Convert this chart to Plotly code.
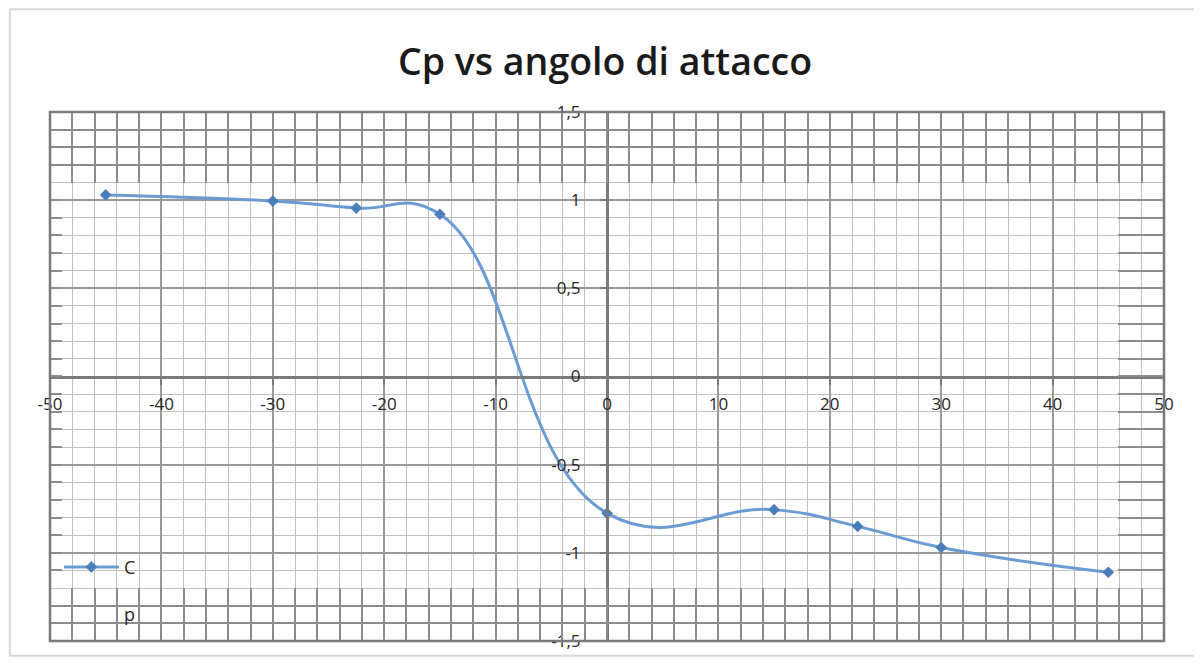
import numpy as np
import plotly.graph_objects as go

# ---- data ----
angles = [-45, -30, -22.5, -15, 0, 15, 22.5, 30, 45]
cp_values = [1.03, 0.995, 0.955, 0.92, -0.775, -0.755, -0.85, -0.97, -1.11]
series_name = "C<br><br>p"
title_text = "Cp vs angolo di attacco"

x_tick_vals = [-50, -40, -30, -20, -10, 0, 10, 20, 30, 40, 50]
x_tick_text = ["-50", "-40", "-30", "-20", "-10", "0", "10", "20", "30", "40", "50"]
y_tick_vals = [-1.5, -1.0, -0.5, 0.0, 0.5, 1.0, 1.5]
y_tick_text = ["-1,5", "-1", "-0,5", "0", "0,5", "1", "1,5"]

LINE = "#6a9bd3"
MINOR = "#c0c0c0"
MAJOR = "#999999"
BAND = "#8c8c8c"
AXIS = "#7a7a7a"
TXT = "#262626"

fig = go.Figure()
fig.add_trace(go.Scatter(
    x=angles, y=cp_values, name=series_name,
    mode="lines+markers",
    line=dict(color=LINE, width=3, shape="spline", smoothing=1.3),
    marker=dict(symbol="diamond", size=9, color="#4a7ebb"),
))

layout = dict(
    width=1194, height=656,
    paper_bgcolor="white", plot_bgcolor="rgba(0,0,0,0)",
    margin=dict(l=42, r=38, t=104, b=23),
    separators=", ",
    title=dict(text=title_text, x=0.5, xanchor="center", y=0.918, yanchor="middle",
               font=dict(family="Open Sans", size=37.5, color="#1a1a1a", weight=600)),
    font=dict(family="Open Sans", size=17, color=TXT),
    showlegend=True,
    legend=dict(x=0.008, y=0.095, xanchor="left", yanchor="middle",
                bgcolor="rgba(255,255,255,0)", valign="top", itemwidth=55,
                font=dict(family="Open Sans", size=18, color=TXT)),
    xaxis=dict(range=[-50, 50], anchor="free", position=0.5, domain=[0, 1],
               tickmode="array", tickvals=x_tick_vals, ticktext=x_tick_text,
               ticks="outside", ticklen=6, tickcolor=AXIS, tickwidth=2,
               ticklabelstandoff=5,
               showline=True, linecolor=AXIS, linewidth=3,
               showgrid=True, gridcolor=MAJOR, gridwidth=1.5,
               zeroline=False,
               minor=dict(tickmode="array", tickvals=list(np.arange(-50, 51, 2)),
                          showgrid=True, gridcolor=MINOR, gridwidth=1, ticks="")),
    yaxis=dict(range=[-1.5, 1.5], anchor="free", position=0.5, domain=[0, 1],
               tickmode="array", tickvals=y_tick_vals, ticktext=y_tick_text,
               ticks="outside", ticklen=6, tickcolor=AXIS, tickwidth=2,
               ticklabelstandoff=16,
               showline=True, linecolor=AXIS, linewidth=3,
               showgrid=True, gridcolor=MAJOR, gridwidth=1.5,
               zeroline=False,
               minor=dict(tickmode="array", tickvals=list(np.round(np.arange(-1.5, 1.51, 0.1), 2)),
                          showgrid=True, gridcolor=MINOR, gridwidth=1, ticks="")),
    shapes=[
        dict(type="rect", xref="x domain", yref="y domain", x0=0, x1=1, y0=0, y1=1,
             line=dict(color=AXIS, width=2.5), layer="above"),
        dict(type="rect", xref="paper", yref="paper", x0=-0.036, x1=1.028, y0=-0.028, y1=1.194,
             line=dict(color="#d9d9d9", width=2), layer="below"),
    ],
)

# darker grid bands seen in the scanned reference (pure styling, no data)
bands = [
    # (xdomain, ydomain, xrange, yrange, show_vertical, show_horizontal)
    ([0, 1], [0.8667, 1], [-50, 50], [1.1, 1.5], True, True),
    ([0, 1], [0, 0.1], [-50, 50], [-1.5, -1.2], True, True),
    ([0.959, 1], [0.1, 0.8667], [45.9, 50], [-1.2, 1.1], False, True),
    ([0, 0.011], [0.1, 0.8667], [-50, -48.9], [-1.2, 1.1], False, True),
]
for i, (xd, yd, xr, yr, sv, sh) in enumerate(bands, start=3):
    layout[f"xaxis{i}"] = dict(domain=xd, range=xr, anchor=f"y{i}", showticklabels=False,
                               ticks="", showline=False, zeroline=False,
                               showgrid=sv, gridcolor=BAND, gridwidth=2.2,
                               tickmode="linear", tick0=-50, dtick=2)
    layout[f"yaxis{i}"] = dict(domain=yd, range=yr, anchor=f"x{i}", showticklabels=False,
                               ticks="", showline=False, zeroline=False,
                               showgrid=sh, gridcolor=BAND, gridwidth=2.2,
                               tickmode="linear", tick0=0, dtick=0.1)
    # empty placeholder trace so that the styling subplot is rendered
    fig.add_trace(go.Scatter(x=[None], y=[None], xaxis=f"x{i}", yaxis=f"y{i}",
                             showlegend=False, hoverinfo="skip", mode="markers"))

fig.update_layout(**layout)
fig.write_html("out.html")
